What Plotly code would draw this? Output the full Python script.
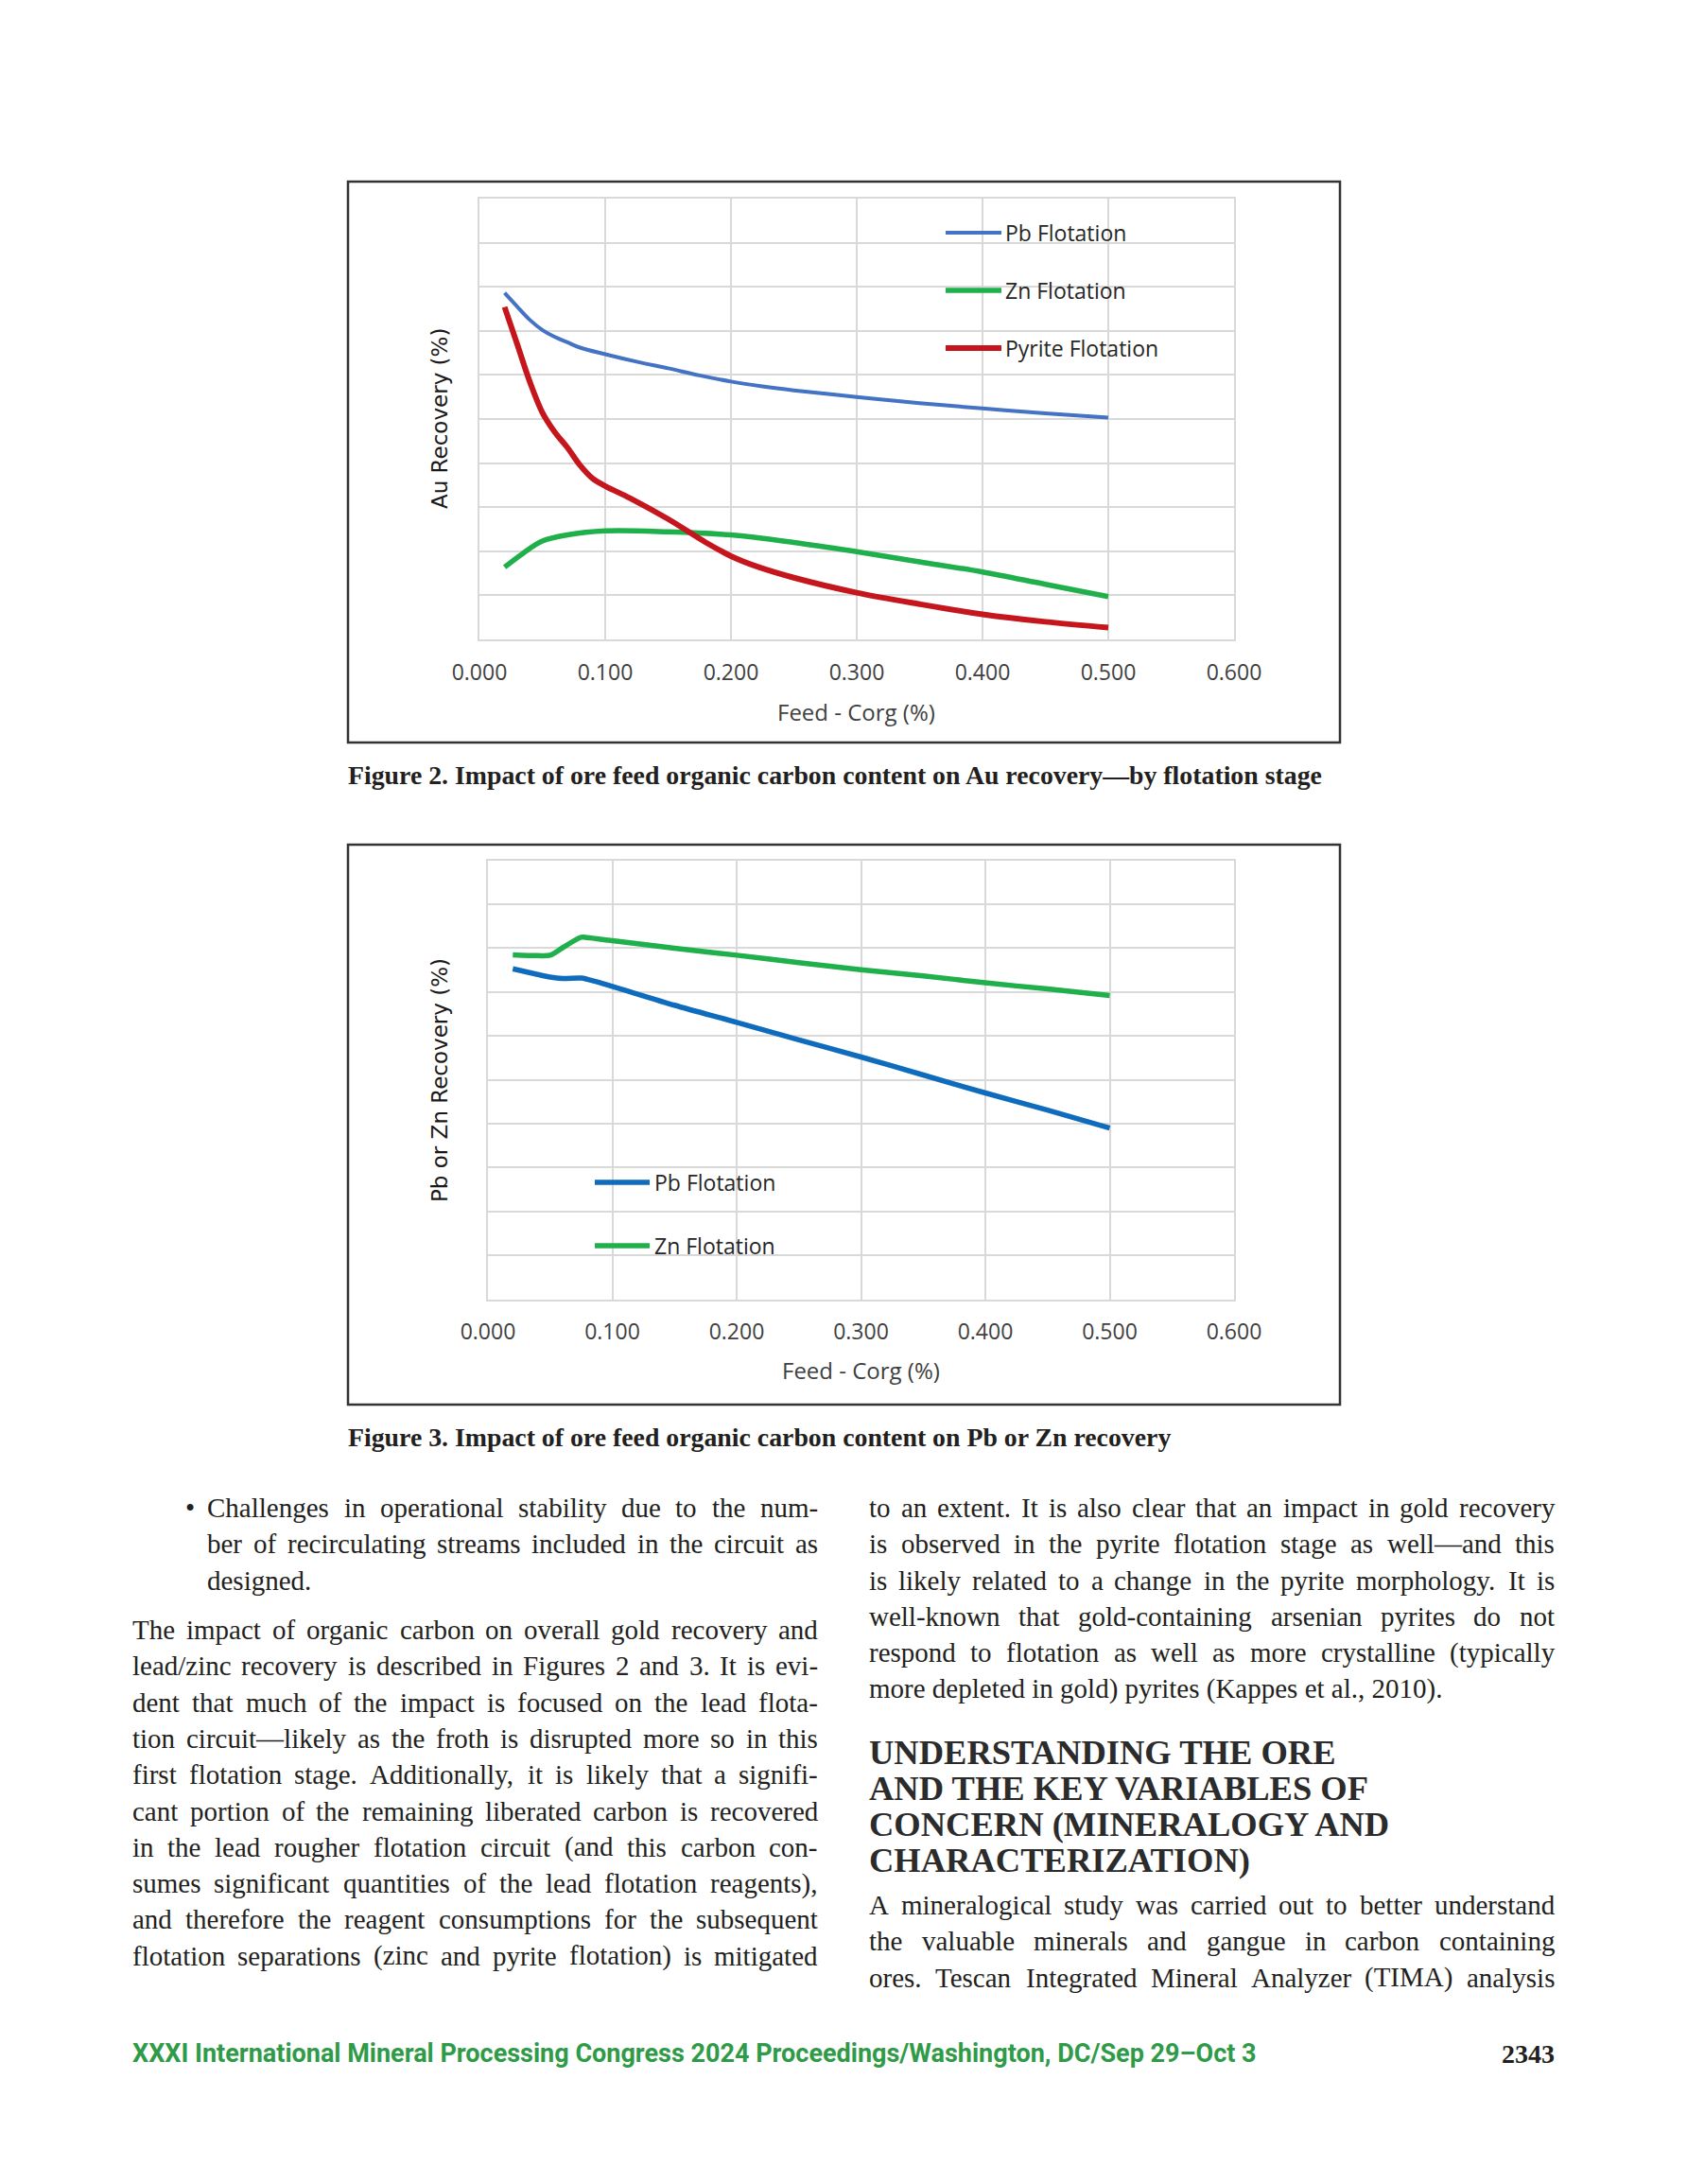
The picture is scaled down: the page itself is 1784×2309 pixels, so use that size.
import plotly.graph_objects as go

W, H = 1784, 2309

# ---------------- Figure 2 data (Au recovery by flotation stage) ----------------
fig2_pb_x = [0.02, 0.03, 0.04, 0.05, 0.06, 0.07, 0.08, 0.10, 0.125, 0.15, 0.175, 0.20,
             0.225, 0.25, 0.30, 0.35, 0.40, 0.45, 0.50]
fig2_pb_y = [78.6, 75.5, 72.5, 70.2, 68.6, 67.4, 66.2, 64.7, 63.0, 61.5, 59.9, 58.5,
             57.4, 56.5, 55.0, 53.6, 52.4, 51.3, 50.3]

fig2_zn_x = [0.02, 0.035, 0.05, 0.07, 0.10, 0.15, 0.20, 0.25, 0.30, 0.35, 0.40, 0.45, 0.50]
fig2_zn_y = [16.4, 19.6, 22.3, 23.7, 24.6, 24.4, 23.7, 22.0, 19.9, 17.6, 15.3, 12.5, 9.7]

fig2_py_x = [0.02, 0.03, 0.04, 0.05, 0.06, 0.07, 0.08, 0.09, 0.10, 0.12, 0.15, 0.18,
             0.20, 0.22, 0.25, 0.30, 0.35, 0.40, 0.45, 0.50]
fig2_py_y = [75.4, 67.0, 58.5, 51.5, 47.0, 43.5, 39.5, 36.5, 34.8, 32.0, 27.3, 22.0,
             18.9, 16.6, 14.0, 10.6, 8.0, 5.7, 4.0, 2.7]

# ---------------- Figure 3 data (Pb or Zn recovery) ----------------
fig3_zn_x = [0.02, 0.04, 0.05, 0.06, 0.075, 0.08, 0.10, 0.15, 0.20, 0.25, 0.30, 0.35, 0.40, 0.45, 0.50]
fig3_zn_y = [78.5, 78.3, 78.4, 80.1, 82.5, 82.4, 81.7, 80.0, 78.4, 76.7, 75.1, 73.7, 72.1, 70.7, 69.2]

fig3_pb_x = [0.02, 0.04, 0.05, 0.06, 0.075, 0.08, 0.10, 0.15, 0.20, 0.25, 0.30, 0.35, 0.40, 0.45, 0.50]
fig3_pb_y = [75.3, 74.0, 73.4, 73.1, 73.2, 72.9, 71.3, 67.0, 63.1, 59.1, 55.2, 51.1, 47.0, 43.1, 39.0]

x_tick_vals = [0.0, 0.1, 0.2, 0.3, 0.4, 0.5, 0.6]
x_tick_text = ["0.000", "0.100", "0.200", "0.300", "0.400", "0.500", "0.600"]

legend2_names = ["Pb Flotation", "Zn Flotation", "Pyrite Flotation"]
legend3_names = ["Pb Flotation", "Zn Flotation"]

x_title = "Feed - Corg (%)"
y_title_2 = "Au Recovery (%)"
y_title_3 = "Pb or Zn Recovery (%)"
caption_2 = "Figure 2. Impact of ore feed organic carbon content on Au recovery\u2014by flotation stage"
caption_3 = "Figure 3. Impact of ore feed organic carbon content on Pb or Zn recovery"

bullet_lines = [
    "Challenges in operational stability due to the num-",
    "ber of recirculating streams included in the circuit as",
    "designed.",
]
left_par_lines = [
    "The impact of organic carbon on overall gold recovery and",
    "lead/zinc recovery is described in Figures 2 and 3. It is evi-",
    "dent that much of the impact is focused on the lead flota-",
    "tion circuit\u2014likely as the froth is disrupted more so in this",
    "first flotation stage. Additionally, it is likely that a signifi-",
    "cant portion of the remaining liberated carbon is recovered",
    "in the lead rougher flotation circuit (and this carbon con-",
    "sumes significant quantities of the lead flotation reagents),",
    "and therefore the reagent consumptions for the subsequent",
    "flotation separations (zinc and pyrite flotation) is mitigated",
]
right_par_lines = [
    "to an extent. It is also clear that an impact in gold recovery",
    "is observed in the pyrite flotation stage as well\u2014and this",
    "is likely related to a change in the pyrite morphology. It is",
    "well-known that gold-containing arsenian pyrites do not",
    "respond to flotation as well as more crystalline (typically",
    "more depleted in gold) pyrites (Kappes et al., 2010).",
]
heading_lines = [
    "UNDERSTANDING THE ORE",
    "AND THE KEY VARIABLES OF",
    "CONCERN (MINERALOGY AND",
    "CHARACTERIZATION)",
]
right_par2_lines = [
    "A mineralogical study was carried out to better understand",
    "the valuable minerals and gangue in carbon containing",
    "ores. Tescan Integrated Mineral Analyzer (TIMA) analysis",
]
footer_text = "XXXI International Mineral Processing Congress 2024 Proceedings/Washington, DC/Sep 29\u2013Oct 3"
page_number = "2343"

# ---------------- helpers ----------------
def px(x):
    return x / W


def py(y):
    return 1 - y / H


# Times-compatible advance widths (per 1000 em) used for justification
_TW = {' ': 250, '!': 333, '"': 408, '%': 833, '&': 778, "'": 333, '(': 333, ')': 333,
       ',': 250, '-': 333, '.': 250, '/': 278, ':': 278, ';': 278, '?': 444,
       '\u2014': 1000, '\u2013': 500, '\u2022': 350,
       'A': 722, 'B': 667, 'C': 667, 'D': 722, 'E': 611, 'F': 556, 'G': 722, 'H': 722,
       'I': 333, 'J': 389, 'K': 722, 'L': 611, 'M': 889, 'N': 722, 'O': 722, 'P': 556,
       'Q': 722, 'R': 667, 'S': 556, 'T': 611, 'U': 722, 'V': 722, 'W': 944, 'X': 722,
       'Y': 722, 'Z': 611,
       'a': 444, 'b': 500, 'c': 444, 'd': 500, 'e': 444, 'f': 333, 'g': 500, 'h': 500,
       'i': 278, 'j': 278, 'k': 500, 'l': 278, 'm': 778, 'n': 500, 'o': 500, 'p': 500,
       'q': 500, 'r': 333, 's': 389, 't': 278, 'u': 500, 'v': 500, 'w': 722, 'x': 500,
       'y': 500, 'z': 444}


def text_w(s, fs):
    return sum(_TW.get(c, 500) for c in s) * fs / 1000.0


BODY_FONT = dict(family="Liberation Serif, Times New Roman, serif", size=29, color="#231F20")
annotations = []
shapes = []


def add_text(text, x, y, font, xanchor="left", yanchor="middle", angle=0):
    annotations.append(dict(text=text, x=px(x), y=py(y), xref="paper", yref="paper",
                            xanchor=xanchor, yanchor=yanchor, showarrow=False,
                            font=font, textangle=angle, borderpad=0, borderwidth=0))


def add_line(text, x0, x1, y, justify=True, font=BODY_FONT):
    words = text.split(" ")
    if not justify or len(words) < 2:
        add_text(text, x0, y, font)
        return
    fs = font["size"]
    widths = [text_w(w, fs) for w in words]
    gap = (x1 - x0 - sum(widths)) / (len(words) - 1)
    x = x0
    for w, ww in zip(words, widths):
        add_text(w, x, y, font)
        x += ww + gap


# ---------------- figure ----------------
fig = go.Figure()

C2_BLUE, C_GREEN, C_RED, C3_BLUE = "#4472C4", "#1FAF4B", "#C4161C", "#0F6CBD"

fig.add_trace(go.Scatter(x=fig2_pb_x, y=fig2_pb_y, mode="lines", name=legend2_names[0],
                         line=dict(color=C2_BLUE, width=4, shape="spline", smoothing=1.0),
                         xaxis="x", yaxis="y"))
fig.add_trace(go.Scatter(x=fig2_zn_x, y=fig2_zn_y, mode="lines", name=legend2_names[1],
                         line=dict(color=C_GREEN, width=5.5, shape="spline", smoothing=1.0),
                         xaxis="x", yaxis="y"))
fig.add_trace(go.Scatter(x=fig2_py_x, y=fig2_py_y, mode="lines", name=legend2_names[2],
                         line=dict(color=C_RED, width=6, shape="spline", smoothing=1.0),
                         xaxis="x", yaxis="y"))
fig.add_trace(go.Scatter(x=fig3_pb_x, y=fig3_pb_y, mode="lines", name=legend3_names[0],
                         line=dict(color=C3_BLUE, width=5.5, shape="spline", smoothing=0.8),
                         xaxis="x2", yaxis="y2"))
fig.add_trace(go.Scatter(x=fig3_zn_x, y=fig3_zn_y, mode="lines", name=legend3_names[1],
                         line=dict(color=C_GREEN, width=5.5, shape="spline", smoothing=0.8),
                         xaxis="x2", yaxis="y2"))

GRID = "#D9D9D9"
TICK_FONT = dict(family="Open Sans, sans-serif", size=23, color="#404040")

xcommon = dict(range=[0, 0.6], tickvals=x_tick_vals, ticktext=x_tick_text,
               showgrid=True, gridcolor=GRID, gridwidth=2, zeroline=False,
               showline=True, mirror=True, linecolor=GRID, linewidth=2,
               tickfont=TICK_FONT, ticks="", ticklabelstandoff=13, fixedrange=True)
ycommon = dict(range=[0, 100], dtick=10, tick0=0, showgrid=True, gridcolor=GRID, gridwidth=2,
               zeroline=False, showline=True, mirror=True, linecolor=GRID, linewidth=2,
               showticklabels=False, ticks="", fixedrange=True)

fig.update_layout(
    width=W, height=H, margin=dict(l=0, r=0, t=0, b=0, autoexpand=False),
    paper_bgcolor="white", plot_bgcolor="white", showlegend=False,
    xaxis=dict(domain=[px(507), px(1305)], anchor="y", automargin=False, **xcommon),
    yaxis=dict(domain=[py(676), py(210)], anchor="x", automargin=False, **ycommon),
    xaxis2=dict(domain=[px(516), px(1305)], anchor="y2", automargin=False, **xcommon),
    yaxis2=dict(domain=[py(1373.5), py(909.7)], anchor="x2", automargin=False, **ycommon),
)

# outer chart frames
for (x0, y0, x1, y1) in [(368, 192, 1417, 785), (368, 893, 1417, 1485)]:
    shapes.append(dict(type="rect", xref="paper", yref="paper", x0=px(x0), x1=px(x1),
                       y0=py(y1), y1=py(y0), line=dict(color="#333333", width=2.5),
                       fillcolor="rgba(0,0,0,0)", layer="below"))

LEG_FONT = dict(family="Open Sans, sans-serif", size=23, color="#262626")
# legend chart 1
for name, col, yy, lw in zip(legend2_names, [C2_BLUE, C_GREEN, C_RED], [246, 307, 368], [4, 5.5, 6]):
    shapes.append(dict(type="line", xref="paper", yref="paper", x0=px(1000), x1=px(1059),
                       y0=py(yy), y1=py(yy), line=dict(color=col, width=lw)))
    add_text(name, 1063, yy, LEG_FONT)
# legend chart 2
for name, col, yy in zip(legend3_names, [C3_BLUE, C_GREEN], [1250, 1317]):
    shapes.append(dict(type="line", xref="paper", yref="paper", x0=px(629), x1=px(687),
                       y0=py(yy), y1=py(yy), line=dict(color=col, width=5.5)))
    add_text(name, 692, yy, LEG_FONT)

# axis titles
XT_FONT = dict(family="Open Sans, sans-serif", size=24, color="#404040")
YT_FONT = dict(family="DejaVu Sans, Verdana, sans-serif", size=23, color="#1A1A1A")
add_text(x_title, 906, 752, XT_FONT, xanchor="center")
add_text(x_title, 910, 1448, XT_FONT, xanchor="center")
add_text(y_title_2, 465, 443, YT_FONT, xanchor="center", angle=-90)
add_text(y_title_3, 465, 1142, YT_FONT, xanchor="center", angle=-90)

# captions
CAP_FONT = dict(family="Liberation Serif, Times New Roman, serif", size=27.8, color="#231F20", weight="bold")
add_text(caption_2, 368, 819, CAP_FONT)
add_text(caption_3, 368, 1519, CAP_FONT)

# body text, left column
line_step = 38.3
add_text("\u2022", 196, 1594, BODY_FONT)
for i, t in enumerate(bullet_lines):
    add_line(t, 219, 865, 1594 + i * line_step, justify=(i < len(bullet_lines) - 1))
for i, t in enumerate(left_par_lines):
    add_line(t, 140, 865, 1723 + i * line_step, justify=True)

# right column
for i, t in enumerate(right_par_lines):
    add_line(t, 919, 1644, 1594 + i * line_step, justify=(i < len(right_par_lines) - 1))
HEAD_FONT = dict(family="Liberation Serif, Times New Roman, serif", size=36.5, color="#2B2B2B", weight="bold")
for i, t in enumerate(heading_lines):
    add_text(t, 919, 1852 + i * 38.3, HEAD_FONT)
for i, t in enumerate(right_par2_lines):
    add_line(t, 919, 1644, 2014 + i * line_step, justify=True)

# footer
FOOT_FONT = dict(family="Roboto, sans-serif", size=27, color="#2F9B48", weight="bold")
add_text(footer_text, 140, 2171, FOOT_FONT)
add_text(page_number, 1644, 2171, dict(family="Liberation Serif, serif", size=28, color="#231F20", weight="bold"),
         xanchor="right")

fig.update_layout(annotations=annotations, shapes=shapes)
fig.write_html(
    "out.html",
    config={"displayModeBar": False},
    post_script="document.documentElement.style.margin='0';document.body.style.margin='0';"
                "document.documentElement.style.overflow='hidden';document.body.style.overflow='hidden';",
)
